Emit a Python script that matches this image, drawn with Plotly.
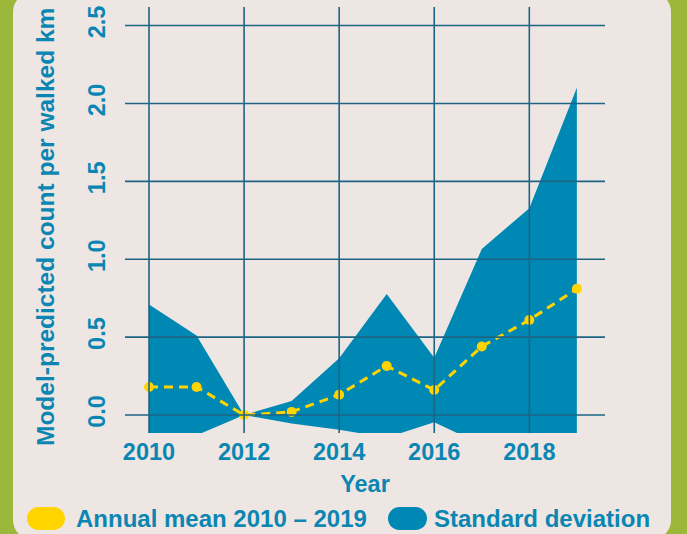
import plotly.graph_objects as go

# ---- data ----
years = [2010, 2011, 2012, 2013, 2014, 2015, 2016, 2017, 2018, 2019]
annual_mean = [0.18, 0.18, 0.00, 0.02, 0.13, 0.315, 0.16, 0.44, 0.61, 0.81]
sd_upper = [0.71, 0.51, 0.00, 0.09, 0.365, 0.777, 0.368, 1.065, 1.327, 2.10]
sd_lower = [-0.35, -0.13, 0.00, -0.055, -0.095, -0.145, -0.047, -0.19, -0.13, -0.48]
x_ticks = [2010, 2012, 2014, 2016, 2018]
y_ticks = [0.0, 0.5, 1.0, 1.5, 2.0, 2.5]
legend_labels = ["Annual mean 2010 \u2013 2019", "Standard deviation"]
x_title = "Year"
y_title = "Model-predicted count per walked km"

# ---- style ----
W, H = 687, 534
ML, MR, MT, MB = 125, 82, 7, 101
TEXT = "#0b86b3"
FILL = "#0088b4"
YELLOW = "#ffd400"
GRID = "#1d6585"
BG = "#eee6e3"
GREEN = "#9cb83a"
FONT = "Liberation Sans"

PW = W - ML - MR
PH = H - MT - MB


def px(x):
    return (x - ML) / PW


def py(y):
    return (H - MB - y) / PH


def rrect(x0, y0, x1, y1, r):
    k = 0.5523 * r
    pts = [
        ("M", [(x0 + r, y0)]),
        ("L", [(x1 - r, y0)]),
        ("C", [(x1 - r + k, y0), (x1, y0 + r - k), (x1, y0 + r)]),
        ("L", [(x1, y1 - r)]),
        ("C", [(x1, y1 - r + k), (x1 - r + k, y1), (x1 - r, y1)]),
        ("L", [(x0 + r, y1)]),
        ("C", [(x0 + r - k, y1), (x0, y1 - r + k), (x0, y1 - r)]),
        ("L", [(x0, y0 + r)]),
        ("C", [(x0, y0 + r - k), (x0 + r - k, y0), (x0 + r, y0)]),
    ]
    s = ""
    for cmd, ps in pts:
        s += cmd + " " + " ".join(f"{px(a):.5f},{py(b):.5f}" for a, b in ps) + " "
    return s + "Z"


fig = go.Figure()
fig.add_trace(go.Scatter(x=years, y=sd_lower, mode="lines", line=dict(width=0),
                         showlegend=False, hoverinfo="skip"))
fig.add_trace(go.Scatter(x=years, y=sd_upper, mode="lines", line=dict(width=0),
                         fill="tonexty", fillcolor=FILL, showlegend=False,
                         name=legend_labels[1]))
fig.add_trace(go.Scatter(x=years, y=annual_mean, mode="lines+markers",
                         line=dict(color=YELLOW, width=3, dash="9px,6px"),
                         marker=dict(color=YELLOW, size=10), showlegend=False,
                         name=legend_labels[0]))

shapes = []
# card background
shapes.append(dict(type="path", path=rrect(13, -8, 671, 540, 20), xref="paper", yref="paper",
                   fillcolor=BG, line=dict(width=0), layer="below"))
# grid lines above the fill
for xv in x_ticks:
    shapes.append(dict(type="line", xref="x", yref="paper", x0=xv, x1=xv, y0=0, y1=1,
                       line=dict(color=GRID, width=1.6), layer="above"))
for yv in y_ticks:
    shapes.append(dict(type="line", xref="paper", yref="y", x0=0, x1=1, y0=yv, y1=yv,
                       line=dict(color=GRID, width=1.6), layer="above"))
# legend pills
shapes.append(dict(type="path", path=rrect(27, 507, 65, 530, 11.5), xref="paper", yref="paper",
                   fillcolor=YELLOW, line=dict(width=0), layer="above"))
shapes.append(dict(type="path", path=rrect(388, 507, 427, 530, 11.5), xref="paper", yref="paper",
                   fillcolor=FILL, line=dict(width=0), layer="above"))

bold = dict(family=FONT, size=24, color=TEXT, weight="bold")
annotations = [
    dict(text=legend_labels[0], x=px(74), y=py(518), xref="paper", yref="paper",
         xanchor="left", yanchor="middle", showarrow=False, font=bold),
    dict(text=legend_labels[1], x=px(432), y=py(518), xref="paper", yref="paper",
         xanchor="left", yanchor="middle", showarrow=False, font=bold),
    dict(text=y_title, x=px(45), y=py(227), xref="paper", yref="paper",
         xanchor="center", yanchor="middle", textangle=-90, showarrow=False,
         font=dict(family=FONT, size=24.5, color=TEXT, weight="bold")),
]

fig.update_layout(
    width=W, height=H,
    margin=dict(l=ML, r=MR, t=MT, b=MB, autoexpand=False),
    paper_bgcolor=GREEN,
    plot_bgcolor="rgba(0,0,0,0)",
    shapes=shapes,
    annotations=annotations,
    showlegend=False,
    font=dict(family=FONT, color=TEXT),
    xaxis=dict(
        range=[2009.495, 2019.592], tickvals=x_ticks, tickformat="d",
        showgrid=False, zeroline=False, showline=False, ticks="",
        tickfont=dict(family=FONT, size=23.5, color=TEXT, weight="bold"),
        ticklabelstandoff=2,
        title=dict(text=x_title, standoff=12,
                   font=dict(family=FONT, size=23.5, color=TEXT, weight="bold")),
    ),
    yaxis=dict(
        range=[-0.1155, 2.619], tickvals=y_ticks, tickformat=".1f",
        showgrid=False, zeroline=False, showline=False, ticks="",
        tickangle=-90,
        tickfont=dict(family=FONT, size=23.5, color=TEXT, weight="bold"),
        ticklabelstandoff=14,
    ),
)

fig.write_html("out.html", config={"displayModeBar": False},
               post_script="document.body.style.margin='0';document.body.style.overflow='hidden';")
